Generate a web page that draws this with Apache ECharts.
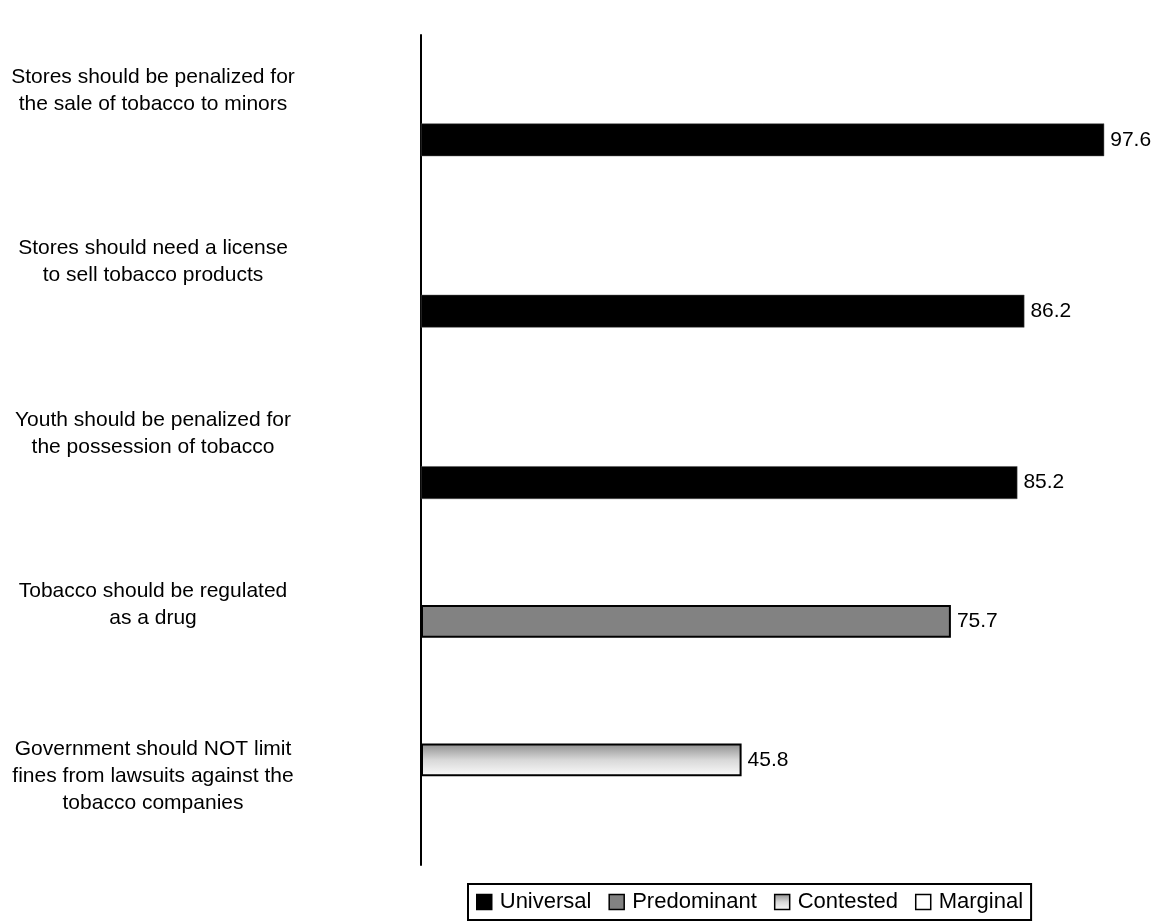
<!DOCTYPE html>
<html>
<head>
<meta charset="utf-8">
<script src="https://cdn.jsdelivr.net/npm/echarts@6/dist/echarts.min.js"></script>
<style>
html,body{margin:0;padding:0;background:#fff;}
#chart{width:1163px;height:924px;}
</style>
</head>
<body>
<div id="chart"></div>
<script>
const categories = [
  "Stores should be penalized for\nthe sale of tobacco to minors",
  "Stores should need a license\nto sell tobacco products",
  "Youth should be penalized for\nthe possession of tobacco",
  "Tobacco should be regulated\nas a drug",
  "Government should NOT limit\nfines from lawsuits against the\ntobacco companies"
];
const universal   = [97.6, 86.2, 85.2, null, null];
const predominant = [null, null, null, 75.7, null];
const contested   = [null, null, null, null, 45.8];
const marginal    = [null, null, null, null, null];
const legendNames = ["Universal", "Predominant", "Contested", "Marginal"];

const FONT = "'Liberation Sans', Arial, sans-serif";
const chart = echarts.init(document.getElementById('chart'));

const labelCfg = {
  show: true, position: 'right', distance: 6,
  color: '#000', fontSize: 21, fontFamily: FONT
};

const contestedGrad = new echarts.graphic.LinearGradient(0, 0, 0, 1, [
  {offset: 0, color: '#8e8e8e'},
  {offset: 0.5, color: '#d8d8d8'},
  {offset: 1, color: '#fbfbfb'}
]);

chart.setOption({
  animation: false,
  backgroundColor: '#fff',
  textStyle: {fontFamily: FONT},
  grid: [
    {left: 421, right: 42, top: 5, bottom: 62},
    {left: 421, right: 42, top: 35, bottom: 59}
  ],
  xAxis: [
    {type: 'value', min: 0, max: 100, show: false, gridIndex: 0},
    {type: 'value', min: 0, max: 100, show: false, gridIndex: 1}
  ],
  yAxis: [
    {
      type: 'category', data: categories, inverse: true, gridIndex: 0,
      axisLine: {show: false}, axisTick: {show: false},
      axisLabel: {
        margin: 268, align: 'center', verticalAlign: 'middle', color: '#000',
        fontSize: 21, lineHeight: 27, fontFamily: FONT,
        padding: [7, 0, 0, 0]
      }
    },
    {
      type: 'value', min: 0, max: 1, gridIndex: 1,
      axisLine: {show: true, lineStyle: {color: '#000', width: 2}},
      axisTick: {show: false}, axisLabel: {show: false}, splitLine: {show: false}
    }
  ],
  legend: {
    data: legendNames,
    left: 468, top: 884,
    orient: 'horizontal',
    itemWidth: 15, itemHeight: 15, itemGap: 17,
    padding: [7, 8, 7, 8],
    borderColor: '#000', borderWidth: 2,
    icon: 'rect',
    textStyle: {color: '#000', fontSize: 22, fontFamily: FONT, padding: [0, 0, 0, 3]},
    itemStyle: {borderColor: '#000', borderWidth: 1.5}
  },
  series: [
    {
      name: 'Marginal', type: 'bar', data: marginal,
      barGap: '0%', barCategoryGap: '23.6%',
      itemStyle: {color: '#fff', borderColor: '#000', borderWidth: 1.5},
      label: labelCfg
    },
    {
      name: 'Contested', type: 'bar', data: contested,
      barGap: '0%', barCategoryGap: '23.6%',
      itemStyle: {color: contestedGrad, borderColor: '#000', borderWidth: 2},
      label: labelCfg
    },
    {
      name: 'Predominant', type: 'bar', data: predominant,
      barGap: '0%', barCategoryGap: '23.6%',
      itemStyle: {color: '#828282', borderColor: '#000', borderWidth: 2},
      label: labelCfg
    },
    {
      name: 'Universal', type: 'bar', data: universal,
      barGap: '0%', barCategoryGap: '23.6%',
      itemStyle: {color: '#000', borderColor: '#555', borderWidth: 0.5},
      label: labelCfg
    }
  ]
});
</script>
</body>
</html>
